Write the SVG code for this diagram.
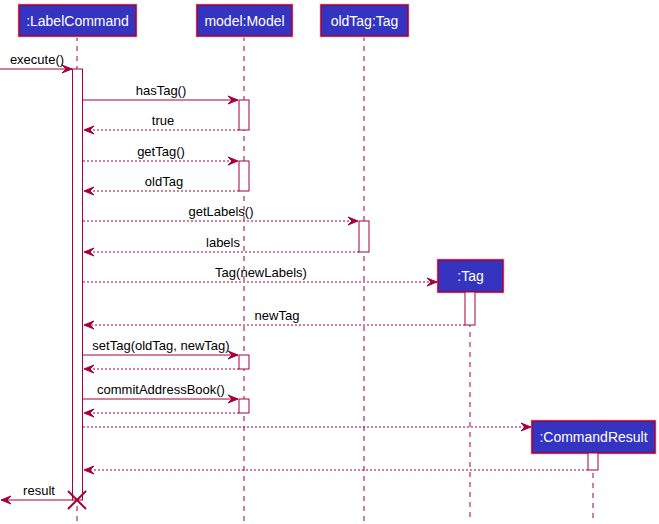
<svg xmlns="http://www.w3.org/2000/svg" width="659" height="524" viewBox="0 0 659 524">
<style>
.box{fill:#3434C0;stroke:#A80036;stroke-width:1.5}
.halo{fill:none;stroke:#F4D6E0;stroke-width:3.5}
.bt{font-family:"Liberation Sans",Arial,sans-serif;font-size:14px;fill:#FFFFFF;text-anchor:middle}
.life{stroke:#A80036;stroke-width:1;stroke-dasharray:5,5;fill:none}
.act{fill:#FFFFFF;stroke:#A80036;stroke-width:1}
.msg{stroke:#A80036;stroke-width:1;fill:none}
.ret{stroke:#A80036;stroke-width:1;stroke-dasharray:2,2;fill:none}
.ah{fill:#A80036;stroke:#A80036;stroke-width:1}
.ml{font-family:"Liberation Sans",Arial,sans-serif;font-size:13px;fill:#000000;text-anchor:middle}
</style>
<rect width="659" height="524" fill="#FFFFFF"/>
<g id="lifelines">
<line class="life" x1="77" y1="36" x2="77" y2="522"/>
<line class="life" x1="244" y1="36" x2="244" y2="522"/>
<line class="life" x1="364" y1="36" x2="364" y2="522"/>
<line class="life" x1="470" y1="292" x2="470" y2="522"/>
<line class="life" x1="593" y1="453" x2="593" y2="522"/>
</g>
<g id="n_labelcommand">
<rect class="halo" x="19" y="5" width="117" height="31"/>
<rect class="box" x="19" y="5" width="117" height="31"/>
<text class="bt" x="77.5" y="25.5">:LabelCommand</text>
<rect class="act" x="72.5" y="69" width="10" height="431"/>
</g>
<g id="n_model">
<rect class="halo" x="197" y="5" width="95" height="31"/>
<rect class="box" x="197" y="5" width="95" height="31"/>
<text class="bt" x="244.5" y="25.5">model:Model</text>
<rect class="act" x="239" y="100" width="10" height="30"/>
<rect class="act" x="239" y="161" width="10" height="30"/>
<rect class="act" x="239" y="355" width="10" height="14"/>
<rect class="act" x="239" y="399" width="10" height="14"/>
</g>
<g id="n_oldtag">
<rect class="halo" x="321" y="5" width="87" height="31"/>
<rect class="box" x="321" y="5" width="87" height="31"/>
<text class="bt" x="364.5" y="25.5">oldTag:Tag</text>
<rect class="act" x="359" y="221" width="10" height="31"/>
</g>
<g id="n_tag">
<rect class="halo" x="438" y="260" width="65" height="32"/>
<rect class="box" x="438" y="260" width="65" height="32"/>
<text class="bt" x="470.5" y="281">:Tag</text>
<rect class="act" x="465" y="292" width="10" height="33"/>
</g>
<g id="n_commandresult">
<rect class="halo" x="532" y="421" width="123" height="32"/>
<rect class="box" x="532" y="421" width="123" height="32"/>
<text class="bt" x="593.5" y="442">:CommandResult</text>
<rect class="act" x="588" y="453" width="10" height="17"/>
</g>
<g id="connectors">
<line class="msg" x1="0" y1="69" x2="72" y2="69"/>
<polygon class="ah" points="62,65 72,69 62,73 66,69"/>
<text class="ml" x="37" y="64">execute()</text>

<line class="msg" x1="83" y1="100" x2="238" y2="100"/>
<polygon class="ah" points="228,96 238,100 228,104 232,100"/>
<text class="ml" x="161" y="95">hasTag()</text>

<line class="ret" x1="239" y1="130" x2="84" y2="130"/>
<polygon class="ah" points="94,126 84,130 94,134 90,130"/>
<text class="ml" x="163" y="125">true</text>

<line class="ret" x1="83" y1="161" x2="238" y2="161"/>
<polygon class="ah" points="228,157 238,161 228,165 232,161"/>
<text class="ml" x="161" y="156">getTag()</text>

<line class="ret" x1="239" y1="191" x2="84" y2="191"/>
<polygon class="ah" points="94,187 84,191 94,195 90,191"/>
<text class="ml" x="164" y="186">oldTag</text>

<line class="ret" x1="83" y1="221" x2="358" y2="221"/>
<polygon class="ah" points="348,217 358,221 348,225 352,221"/>
<text class="ml" x="221" y="216">getLabels()</text>

<line class="ret" x1="359" y1="252" x2="84" y2="252"/>
<polygon class="ah" points="94,248 84,252 94,256 90,252"/>
<text class="ml" x="223" y="247">labels</text>

<line class="ret" x1="83" y1="282" x2="437" y2="282"/>
<polygon class="ah" points="427,278 437,282 427,286 431,282"/>
<text class="ml" x="261" y="277">Tag(newLabels)</text>

<line class="ret" x1="465" y1="325" x2="84" y2="325"/>
<polygon class="ah" points="94,321 84,325 94,329 90,325"/>
<text class="ml" x="277" y="320">newTag</text>

<line class="msg" x1="83" y1="355" x2="238" y2="355"/>
<polygon class="ah" points="228,351 238,355 228,359 232,355"/>
<text class="ml" x="161" y="350">setTag(oldTag, newTag)</text>

<line class="ret" x1="239" y1="369" x2="84" y2="369"/>
<polygon class="ah" points="94,365 84,369 94,373 90,369"/>

<line class="msg" x1="83" y1="399" x2="238" y2="399"/>
<polygon class="ah" points="228,395 238,399 228,403 232,399"/>
<text class="ml" x="161" y="394">commitAddressBook()</text>

<line class="ret" x1="239" y1="413" x2="84" y2="413"/>
<polygon class="ah" points="94,409 84,413 94,417 90,413"/>

<line class="ret" x1="83" y1="427" x2="531" y2="427"/>
<polygon class="ah" points="521,423 531,427 521,431 525,427"/>

<line class="ret" x1="588" y1="470" x2="84" y2="470"/>
<polygon class="ah" points="94,466 84,470 94,474 90,470"/>

<line class="msg" x1="73" y1="500" x2="1" y2="500"/>
<polygon class="ah" points="11,496 1,500 11,504 7,500"/>
<text class="ml" x="39" y="495">result</text>

<line stroke="#A80036" stroke-width="2" x1="68" y1="491" x2="86" y2="509"/>
<line stroke="#A80036" stroke-width="2" x1="86" y1="491" x2="68" y2="509"/>
</g>
</svg>
